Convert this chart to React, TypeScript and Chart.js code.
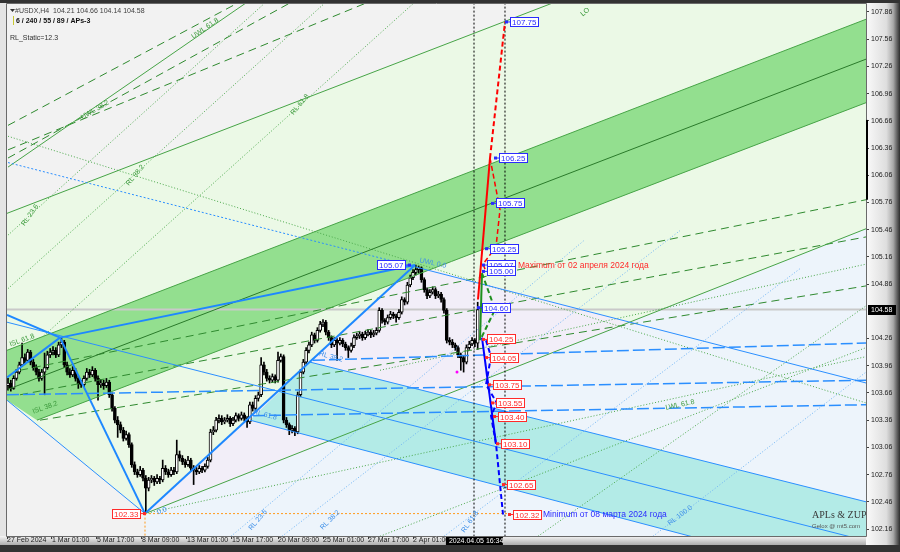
import React, { useEffect, useRef } from 'react';
import { Chart, registerables } from 'chart.js';

Chart.register(...registerables);

type Pt = [number, number];

// ---------- H4 candles (index 0 = 27 Feb 2024) ----------
const opens: number[] = [
  103.74, 103.77, 103.71, 103.82, 103.89, 103.97, 104.05, 104.02, 104.11, 104.00,
  103.94, 103.89, 103.82, 103.89, 103.94, 104.08, 104.11, 104.13, 104.08, 104.19,
  104.22, 103.97, 103.89, 103.86, 103.91, 103.82, 103.76, 103.75, 103.82, 103.89,
  103.86, 103.91, 103.82, 103.75, 103.77, 103.74, 103.78, 103.64, 103.49, 103.36,
  103.31, 103.25, 103.16, 103.20, 103.09, 102.87, 102.79, 102.76, 102.81, 102.72,
  102.61, 102.70, 102.72, 102.68, 102.72, 102.70, 102.83, 102.79, 102.76, 102.81,
  102.79, 102.98, 102.94, 102.90, 102.87, 102.92, 102.83, 102.81, 102.79, 102.83,
  102.81, 102.85, 102.92, 103.23, 103.25, 103.36, 103.38, 103.34, 103.36, 103.38,
  103.32, 103.36, 103.41, 103.38, 103.42, 103.38, 103.34, 103.53, 103.49, 103.60,
  103.64, 103.97, 103.89, 103.82, 103.80, 103.84, 103.80, 104.02, 104.06, 103.36,
  103.31, 103.25, 103.27, 103.23, 103.64, 103.89, 104.00, 104.13, 104.19, 104.30,
  104.24, 104.35, 104.42, 104.44, 104.33, 104.27, 104.19, 104.24, 104.21, 104.24,
  104.20, 104.16, 104.13, 104.18, 104.27, 104.29, 104.31, 104.27, 104.31, 104.33,
  104.30, 104.32, 104.35, 104.57, 104.46, 104.44, 104.49, 104.53, 104.51, 104.49,
  104.55, 104.69, 104.66, 104.85, 104.93, 104.99, 105.02, 105.04, 104.91, 104.80,
  104.73, 104.77, 104.80, 104.73, 104.75, 104.69, 104.57, 104.24, 104.22, 104.19,
  104.16, 104.08, 104.05, 104.00, 104.16, 104.20, 104.24, 104.21,
];
const highs: number[] = [
  103.82, 103.80, 103.85, 103.92, 104.00, 104.21, 104.09, 104.14, 104.13, 104.03,
  103.97, 103.92, 103.92, 104.10, 104.12, 104.15, 104.17, 104.16, 104.22, 104.27,
  104.24, 104.00, 103.93, 103.95, 103.93, 103.85, 103.80, 103.85, 103.93, 103.92,
  103.95, 103.93, 103.85, 103.81, 103.80, 103.82, 103.80, 103.66, 103.51, 103.40,
  103.34, 103.28, 103.24, 103.22, 103.11, 102.90, 102.82, 102.85, 102.83, 102.75,
  102.73, 102.75, 102.74, 102.76, 102.74, 102.92, 102.86, 102.82, 102.84, 102.84,
  103.14, 103.02, 102.97, 102.93, 102.96, 102.94, 102.86, 102.84, 102.86, 102.85,
  102.88, 102.95, 103.26, 103.29, 103.39, 103.42, 103.41, 103.39, 103.42, 103.40,
  103.39, 103.44, 103.43, 103.45, 103.44, 103.40, 103.56, 103.56, 103.63, 103.67,
  104.05, 104.00, 103.92, 103.85, 103.87, 103.86, 104.11, 104.09, 104.08, 103.39,
  103.33, 103.30, 103.29, 103.67, 103.92, 104.03, 104.16, 104.22, 104.33, 104.32,
  104.38, 104.45, 104.47, 104.46, 104.35, 104.29, 104.27, 104.26, 104.27, 104.26,
  104.22, 104.18, 104.21, 104.30, 104.32, 104.34, 104.33, 104.34, 104.36, 104.35,
  104.35, 104.38, 104.60, 104.59, 104.48, 104.52, 104.56, 104.55, 104.53, 104.58,
  104.72, 104.71, 104.88, 104.96, 105.02, 105.07, 105.06, 105.05, 104.93, 104.82,
  104.80, 104.83, 104.82, 104.78, 104.77, 104.71, 104.59, 104.27, 104.25, 104.21,
  104.18, 104.10, 104.07, 104.19, 104.23, 104.27, 104.26, 104.66,
];
const lows: number[] = [
  103.69, 103.68, 103.70, 103.80, 103.87, 103.95, 103.98, 104.00, 103.97, 103.91,
  103.86, 103.79, 103.80, 103.64, 103.92, 104.05, 104.08, 104.05, 104.06, 104.16,
  103.94, 103.86, 103.83, 103.84, 103.79, 103.71, 103.72, 103.73, 103.80, 103.83,
  103.84, 103.79, 103.58, 103.72, 103.70, 103.72, 103.61, 103.46, 103.33, 103.17,
  103.22, 103.13, 103.14, 103.06, 102.84, 102.76, 102.73, 102.74, 102.69, 102.33,
  102.58, 102.67, 102.64, 102.66, 102.66, 102.68, 102.76, 102.73, 102.74, 102.76,
  102.77, 102.91, 102.87, 102.84, 102.85, 102.80, 102.65, 102.76, 102.77, 102.78,
  102.79, 102.83, 102.90, 103.20, 103.23, 103.33, 103.31, 103.32, 103.34, 103.29,
  103.30, 103.34, 103.35, 103.36, 103.35, 103.28, 103.32, 103.46, 103.47, 103.57,
  103.62, 103.86, 103.79, 103.77, 103.78, 103.77, 103.78, 104.00, 103.33, 103.28,
  103.20, 103.22, 103.19, 103.21, 103.62, 103.87, 103.98, 104.10, 104.17, 104.21,
  104.22, 104.33, 104.39, 104.30, 104.24, 104.16, 104.17, 104.02, 104.19, 104.17,
  104.13, 104.05, 104.11, 104.16, 104.25, 104.26, 104.24, 104.25, 104.29, 104.27,
  104.28, 104.30, 104.33, 104.43, 104.41, 104.42, 104.47, 104.48, 104.44, 104.47,
  104.53, 104.63, 104.64, 104.83, 104.91, 104.96, 104.98, 104.88, 104.77, 104.70,
  104.71, 104.75, 104.70, 104.71, 104.66, 104.54, 104.21, 104.19, 104.16, 104.13,
  104.05, 103.91, 103.89, 103.98, 104.14, 104.18, 104.17, 104.14,
];
const closes: number[] = [
  103.77, 103.71, 103.82, 103.89, 103.97, 104.05, 104.02, 104.11, 104.00, 103.94,
  103.89, 103.82, 103.89, 103.94, 104.08, 104.11, 104.13, 104.08, 104.19, 104.22,
  103.97, 103.89, 103.86, 103.91, 103.82, 103.76, 103.75, 103.82, 103.89, 103.86,
  103.91, 103.82, 103.75, 103.77, 103.74, 103.78, 103.64, 103.49, 103.36, 103.31,
  103.25, 103.16, 103.20, 103.09, 102.87, 102.79, 102.76, 102.81, 102.72, 102.61,
  102.70, 102.72, 102.68, 102.72, 102.70, 102.83, 102.79, 102.76, 102.81, 102.79,
  102.98, 102.94, 102.90, 102.87, 102.92, 102.83, 102.81, 102.79, 102.83, 102.81,
  102.85, 102.92, 103.23, 103.25, 103.36, 103.38, 103.34, 103.36, 103.38, 103.32,
  103.36, 103.41, 103.38, 103.42, 103.38, 103.34, 103.53, 103.49, 103.60, 103.64,
  103.97, 103.89, 103.82, 103.80, 103.84, 103.80, 104.02, 104.06, 103.36, 103.31,
  103.25, 103.27, 103.23, 103.64, 103.89, 104.00, 104.13, 104.19, 104.30, 104.24,
  104.35, 104.42, 104.44, 104.33, 104.27, 104.19, 104.24, 104.21, 104.24, 104.20,
  104.16, 104.13, 104.18, 104.27, 104.29, 104.31, 104.27, 104.31, 104.33, 104.30,
  104.32, 104.35, 104.57, 104.46, 104.44, 104.49, 104.53, 104.51, 104.49, 104.55,
  104.69, 104.66, 104.85, 104.93, 104.99, 105.02, 105.04, 104.91, 104.80, 104.73,
  104.77, 104.80, 104.73, 104.75, 104.69, 104.57, 104.24, 104.22, 104.19, 104.16,
  104.08, 104.05, 104.00, 104.16, 104.20, 104.24, 104.21, 104.58,
];

// ---------- axes ----------
const X_MIN = -0.36;
const X_MAX = 305.07;
const Y_MIN = 102.083;
const Y_MAX = 107.948;
const xTickPositions = [-0.36, 15.64, 31.64, 47.64, 63.64, 79.64, 96.0, 112.0, 128.0, 144.0];
const xTickLabels = ['27 Feb 2024', '1 Mar 01:00', '5 Mar 17:00', '8 Mar 09:00', '13 Mar 01:00',
  '15 Mar 17:00', '20 Mar 09:00', '25 Mar 01:00', '27 Mar 17:00', '2 Apr 01:00'];
const yTickValues = [102.16, 102.46, 102.76, 103.06, 103.36, 103.66, 103.96, 104.26, 104.86,
  105.16, 105.46, 105.76, 106.06, 106.36, 106.66, 106.96, 107.26, 107.56, 107.86];
const lastPrice = 104.58;
const cursorTimeLabel = '2024.04.05 16:34';
const cursorTimeIndex = 155.7;
const timeMarkers = [165.69, 176.71];
const spreadBar: Pt = [106.67, 105.79];

// ---------- zones ----------
const paleBlueZone: Pt[] = [[48.71, 102.33], [305.07, 105.47], [305.07, 101.9], [48.71, 101.9]];
const paleGreenZone: Pt[] = [[-0.36, 103.58], [48.71, 102.33], [305.07, 105.47], [305.07, 108.2], [213.8, 108.2], [-0.36, 105.64]];
const lavenderZone: Pt[] = [[48.71, 102.33], [144.71, 105.07], [221.16, 104.44]];
const cyanZone: Pt[] = [[86.04, 103.36], [107.38, 104.0], [305.07, 102.46], [305.07, 101.57]];
const greenChannel: Pt[] = [[-0.36, 104.13], [305.07, 107.78], [305.07, 106.86], [10.31, 103.36], [-0.36, 103.58]];

// ---------- lines ----------
const thickBlueLines: Pt[][] = [
  [[-0.36, 104.52], [18.49, 104.27]],
  [[-0.36, 103.83], [18.49, 104.27]],
  [[18.49, 104.27], [48.71, 102.33]],
  [[48.71, 102.33], [144.71, 105.07]],
  [[18.49, 104.27], [144.71, 105.07]],
];
const thinBlueLines: Pt[][] = [
  [[144.71, 105.05], [305.07, 103.77]],
  [[-0.36, 104.44], [305.07, 102.03]],
  [[107.38, 104.0], [305.07, 102.46]],
  [[86.04, 103.36], [305.07, 101.57]],
  [[-0.36, 103.58], [48.71, 102.33]],
];
const blueDottedLines: Pt[][] = [[[0, 106.2], [144.71, 105.05]]];
const lightBlueDottedLines: Pt[][] = [
  [[79.29, 102.08], [205.16, 105.35]],
  [[97.42, 102.08], [238.93, 105.45]],
  [[155.02, 102.08], [281.6, 105.03]],
  [[229.33, 102.08], [305.07, 103.89]],
];
const blueDashedLines: Pt[][] = [
  [[-0.36, 103.64], [305.07, 103.80]],
  [[108.44, 104.02], [305.07, 104.21]],
  [[87.11, 103.41], [305.07, 103.53]],
];
const greenSolidLines: Pt[][] = [
  [[-0.36, 104.13], [305.07, 107.78]],
  [[10.31, 103.36], [305.07, 106.86]],
  [[48.71, 102.33], [305.07, 105.47]],
  [[-0.36, 105.64], [213.8, 108.2]],
  [[0, 106.15], [86.04, 107.99]],
];
const greenMedianLine: Pt[] = [[0, 103.70], [305.07, 107.34]];
const greenDashedLines: Pt[][] = [
  [[4.27, 103.91], [305.07, 105.79]],
  [[4.27, 103.64], [305.07, 105.38]],
  [[11.38, 103.36], [305.07, 104.84]],
  [[0, 106.61], [83.56, 107.99]],
  [[0, 106.34], [129.78, 107.99]],
  [[0, 106.25], [102.04, 107.99]],
];
const greenDottedLines: Pt[][] = [
  [[0, 105.40], [91.02, 107.95]],
  [[0, 104.81], [113.78, 107.99]],
  [[12.69, 104.29], [145.42, 107.99]],
  [[188.44, 102.08], [305.07, 104.62]],
  [[48.71, 102.33], [305.07, 104.06]],
  [[132.27, 102.08], [305.07, 104.16]],
  [[132.27, 103.91], [305.07, 105.08]],
  [[0, 106.49], [305.07, 103.55]],
];
const lowLevelLine: Pt[] = [[48.71, 102.33], [179.56, 102.33]];
const lowTimeLine: Pt[] = [[48.71, 102.33], [48.71, 101.9]];

// ---------- projections ----------
const redSolidPath: Pt[] = [[167.11, 104.69], [171.38, 106.25]];
const redDashedPath: Pt[] = [[171.38, 106.25], [176.71, 107.75]];
const redDashedReturn: Pt[] = [[171.38, 106.25], [174.93, 105.68], [173.51, 105.27], [168.89, 105.08], [169.96, 105.0]];
const greenSolidPath: Pt[] = [[167.82, 104.24], [168.53, 104.98]];
const greenDashedPath: Pt[] = [[168.53, 104.98], [173.16, 104.58], [168.18, 104.26]];
const blueSolidPath: Pt[] = [[168.53, 104.27], [173.51, 103.10]];
const blueDashedPath: Pt[] = [[169.96, 104.24], [171.73, 104.06], [169.96, 103.75], [173.87, 103.55], [171.73, 103.41], [173.51, 103.10], [176.0, 102.32]];
const lowDot: Pt = [159.64, 103.89];

const upTargets = [107.75, 106.25, 105.75, 105.25, 105.07, 105.00, 104.60];
const upTargetIdx = [178.49, 174.58, 173.51, 171.38, 170.31, 170.31, 168.53];
const downTargets = [104.25, 104.05, 103.75, 103.55, 103.40, 103.10, 102.65, 102.32];
const downTargetIdx = [170.31, 171.38, 172.44, 173.51, 174.22, 175.29, 177.42, 179.56];
const pivotLow: Pt = [48.71, 102.33];
const pivotHigh: Pt = [142.93, 105.07];

const maxNote = 'Maximum от 02 апреля 2024 года';
const maxNoteAt: Pt = [181.33, 105.065];
const minNote = 'Minimum от 08 марта 2024 года';
const minNoteAt: Pt = [190.22, 102.32];

const fibLabels = ['UWL 61.8', 'UWL 38.2', 'RL 61.8', 'RL 38.2', 'RL 23.6', 'ISL 61.8', 'ISL 38.2',
  'UWL 0.0', 'RL 61.8', 'RL 38.2', 'LWL 61.8', 'RL 100.0', 'RL 23.6', 'RL 38.2', 'RL 61.8', '0.0', 'LO'];
const fibLabelAt: Pt[] = [[70.04, 107.68], [30.93, 106.78], [103.82, 106.84], [45.16, 106.06], [7.82, 105.62],
  [4.98, 104.24], [13.16, 103.50], [151.1, 105.09], [91.38, 103.42], [114.84, 104.06], [238.93, 103.53],
  [238.93, 102.31], [88.89, 102.26], [114.49, 102.26], [164.27, 102.24], [54.76, 102.36], [205.16, 107.86]];

const header1 = '#USDX,H4  104.21 104.66 104.14 104.58';
const header2 = '6 / 240 / 55 / 89 / APs-3';
const header3 = 'RL_Static=12.3';

// styles for fib labels (colour key, angle)
const fibLabelStyle: [string, number][] = [['g', -35], ['g', -30], ['g', -50], ['g', -50], ['g', -55], ['g', -20], ['g', -20],
  ['b', 12], ['b', 15], ['b', 15], ['g', -12], ['b', -37], ['b', -50], ['b', -45], ['b', -55], ['b', -20], ['g', -40]];

const FONT = '"Liberation Sans", Arial, sans-serif';

const framePlugin = {
  id: 'frame',
  beforeDraw(chart: any) {
    const { ctx, chartArea: a, width, height } = chart;
    ctx.save();
    ctx.fillStyle = '#e4e4e4';
    ctx.fillRect(0, 0, width, height);
    // right axis panel
    let g = ctx.createLinearGradient(a.right, 0, width, 0);
    g.addColorStop(0, '#fafafa');
    g.addColorStop(0.6, '#dedede');
    g.addColorStop(0.8, '#a9a9a9');
    g.addColorStop(0.9, '#6a6a6a');
    g.addColorStop(1, '#2c2c2c');
    ctx.fillStyle = g;
    ctx.fillRect(a.right, 0, width - a.right, height);
    // bottom axis panel
    g = ctx.createLinearGradient(0, a.bottom, 0, a.bottom + 10);
    g.addColorStop(0, '#f6f6f6');
    g.addColorStop(1, '#a4a4a4');
    ctx.fillStyle = g;
    ctx.fillRect(0, a.bottom, a.right, 10);
    ctx.fillStyle = '#333333';
    ctx.fillRect(0, a.bottom + 9, width, height - a.bottom - 9);
    ctx.fillRect(0, 0, width, 3);
    // plot background
    ctx.fillStyle = '#f2f2f2';
    ctx.fillRect(a.left, a.top, a.right - a.left, a.bottom - a.top);
    ctx.restore();
  },
};

function priceBox(ctx: any, x: number, y: number, text: string, color: string, markerRight: boolean) {
  ctx.font = `8px ${FONT}`;
  const w = Math.ceil(ctx.measureText(text).width) + 4;
  const h = 10;
  const left = markerRight ? x - w - 4 : x;
  const top = Math.round(y - h / 2);
  ctx.fillStyle = '#ffffff';
  ctx.fillRect(left, top, w, h);
  ctx.strokeStyle = color;
  ctx.lineWidth = 1;
  ctx.strokeRect(left + 0.5, top + 0.5, w - 1, h - 1);
  ctx.fillStyle = color;
  ctx.textAlign = 'left';
  ctx.textBaseline = 'middle';
  ctx.fillText(text, left + 2, top + h / 2 + 0.5);
  ctx.beginPath();
  if (markerRight) {
    ctx.moveTo(left + w, y);
    ctx.lineTo(left + w + 4, y);
  } else {
    ctx.moveTo(left - 4, y);
    ctx.lineTo(left, y);
  }
  ctx.stroke();
  ctx.fillRect(markerRight ? left + w + 2 : left - 5, y - 1.5, 3, 3);
}

const annotPlugin = {
  id: 'annot',
  afterDatasetsDraw(chart: any) {
    const { ctx, chartArea: a } = chart;
    const xs = chart.scales.x;
    const ys = chart.scales.y;
    const X = (v: number) => xs.getPixelForValue(v);
    const Y = (v: number) => ys.getPixelForValue(v);
    ctx.save();
    ctx.beginPath();
    ctx.rect(a.left, a.top, a.right - a.left, a.bottom - a.top);
    ctx.clip();

    // fib labels
    fibLabels.forEach((t, k) => {
      const [c, ang] = fibLabelStyle[k];
      ctx.save();
      ctx.translate(X(fibLabelAt[k][0]), Y(fibLabelAt[k][1]));
      ctx.rotate((ang * Math.PI) / 180);
      ctx.font = `7px ${FONT}`;
      ctx.fillStyle = c === 'g' ? '#3c9a3c' : '#3d8fe8';
      ctx.textAlign = 'center';
      ctx.textBaseline = 'middle';
      ctx.fillText(t, 0, 0);
      ctx.restore();
    });

    upTargets.forEach((v, k) => priceBox(ctx, X(upTargetIdx[k]), Y(v), v.toFixed(2), '#2a2aff', false));
    downTargets.forEach((v, k) => priceBox(ctx, X(downTargetIdx[k]), Y(v), v.toFixed(2), '#ff2a2a', false));
    priceBox(ctx, X(pivotLow[0]), Y(pivotLow[1]), pivotLow[1].toFixed(2), '#ff2a2a', true);
    priceBox(ctx, X(pivotHigh[0]), Y(pivotHigh[1]), pivotHigh[1].toFixed(2), '#2a2aff', true);

    ctx.font = `8.5px ${FONT}`;
    ctx.textAlign = 'left';
    ctx.textBaseline = 'middle';
    ctx.fillStyle = '#ff2a2a';
    ctx.fillText(maxNote, X(maxNoteAt[0]), Y(maxNoteAt[1]));
    ctx.fillStyle = '#2a2aff';
    ctx.fillText(minNote, X(minNoteAt[0]), Y(minNoteAt[1]));

    // header
    ctx.fillStyle = '#303030';
    ctx.beginPath();
    ctx.moveTo(a.left + 3, a.top + 5);
    ctx.lineTo(a.left + 8, a.top + 5);
    ctx.lineTo(a.left + 5.5, a.top + 8);
    ctx.closePath();
    ctx.fill();
    ctx.font = `7px ${FONT}`;
    ctx.fillStyle = '#404040';
    ctx.fillText(header1, a.left + 8, a.top + 7);
    ctx.fillStyle = '#c8c830';
    ctx.fillRect(a.left + 6, a.top + 12, 1, 9);
    ctx.font = `bold 7px ${FONT}`;
    ctx.fillStyle = '#101010';
    ctx.fillText(header2, a.left + 9, a.top + 17);
    ctx.font = `7px ${FONT}`;
    ctx.fillStyle = '#303030';
    ctx.fillText(header3, a.left + 3, a.top + 34);

    // watermark
    ctx.font = `10px "Liberation Serif", serif`;
    ctx.fillStyle = '#3a3a3a';
    ctx.fillText('APLs & ZUP', a.right - 54, a.bottom - 21);
    ctx.font = `6px ${FONT}`;
    ctx.fillStyle = '#555555';
    ctx.fillText('Gelox @ mt5.com', a.right - 54, a.bottom - 10);
    ctx.restore();
  },
  afterDraw(chart: any) {
    const { ctx, chartArea: a, width } = chart;
    const xs = chart.scales.x;
    const ys = chart.scales.y;
    ctx.save();
    ctx.strokeStyle = '#6a6a6a';
    ctx.lineWidth = 1;
    ctx.beginPath();
    ctx.moveTo(a.left - 0.5, a.top - 0.5);
    ctx.lineTo(a.right + 0.5, a.top - 0.5);
    ctx.lineTo(a.right + 0.5, a.bottom + 0.5);
    ctx.lineTo(a.left - 0.5, a.bottom + 0.5);
    ctx.closePath();
    ctx.stroke();
    // spread bar
    const s1 = ys.getPixelForValue(spreadBar[0]);
    const s2 = ys.getPixelForValue(spreadBar[1]);
    ctx.fillStyle = '#000000';
    ctx.fillRect(a.right, s1, 2, s2 - s1);
    // last price box
    const py = ys.getPixelForValue(lastPrice);
    ctx.fillStyle = '#000000';
    ctx.fillRect(a.right + 2, Math.round(py - 5), width - a.right - 6, 10);
    ctx.font = `7px ${FONT}`;
    ctx.fillStyle = '#ffffff';
    ctx.textAlign = 'left';
    ctx.textBaseline = 'middle';
    ctx.fillText(lastPrice.toFixed(2), a.right + 5, Math.round(py) + 0.5);
    // time box
    const tx = xs.getPixelForValue(cursorTimeIndex);
    ctx.fillStyle = '#000000';
    ctx.fillRect(tx, a.bottom + 1, 57, 8);
    ctx.fillStyle = '#ffffff';
    ctx.fillText(cursorTimeLabel, tx + 3, a.bottom + 5.5);
    ctx.restore();
  },
};

export default function App() {
  const ref = useRef<HTMLCanvasElement>(null);
  useEffect(() => {
    const canvas = ref.current;
    if (!canvas) return;
    const datasets: any[] = [];
    const toXY = (pts: Pt[]) => pts.map(([x, y]) => ({ x, y }));
    const addLine = (pts: Pt[], color: string, width: number, dash: number[] = [], order = 10) => {
      datasets.push({
        type: 'line', data: toXY(pts), borderColor: color, borderWidth: width, borderDash: dash,
        pointRadius: 0, fill: false, tension: 0, order,
      });
    };
    const addZone = (pts: Pt[], color: string, order: number) => {
      datasets.push({
        type: 'line', data: toXY(pts), backgroundColor: color, borderColor: 'rgba(0,0,0,0)', borderWidth: 1,
        pointRadius: 0, fill: 'shape', tension: 0, order,
      });
    };

    addZone(paleBlueZone, '#edf4fb', 110);
    addZone(paleGreenZone, '#ebf9e6', 109);
    addZone(lavenderZone, '#f2eef8', 108);
    addZone(cyanZone, '#b3ebe7', 107);
    addZone(greenChannel, '#93df8f', 106);

    addLine([[X_MIN, lastPrice], [X_MAX, lastPrice]], '#c9c9c9', 2, [], 60);

    // candles
    datasets.push({
      type: 'bar', data: opens.map((_, i) => ({ x: i, y: [lows[i], highs[i]] })),
      backgroundColor: '#000000', barThickness: 1, grouped: false, order: 50,
    });
    datasets.push({
      type: 'bar', data: opens.map((o, i) => ({ x: i, y: [o, closes[i]] })),
      backgroundColor: opens.map((o, i) => (closes[i] >= o ? '#ffffff' : '#000000')),
      borderColor: '#000000', borderWidth: 1, borderSkipped: false, barThickness: 3,
      grouped: false, minBarLength: 1, order: 49,
    });

    greenDottedLines.forEach((l) => addLine(l, '#4aa84a', 1, [1, 2], 30));
    lightBlueDottedLines.forEach((l) => addLine(l, '#6fb4f5', 1, [1, 2], 30));
    greenDashedLines.forEach((l) => addLine(l, '#2f8a2f', 1, [8, 5], 29));
    greenSolidLines.forEach((l) => addLine(l, '#47a447', 1, [], 28));
    addLine(greenMedianLine, '#2a7a2a', 1, [], 28);
    blueDottedLines.forEach((l) => addLine(l, '#2b8fff', 1, [2, 2], 27));
    blueDashedLines.forEach((l) => addLine(l, '#2b8fff', 1.5, [12, 4], 26));
    thinBlueLines.forEach((l) => addLine(l, '#2b8fff', 1, [], 25));
    thickBlueLines.forEach((l) => addLine(l, '#1e88ff', 2, [], 24));
    addLine(lowLevelLine, '#ff9a1a', 1, [2, 2], 23);
    addLine(lowTimeLine, '#ff9a1a', 1, [2, 2], 23);
    timeMarkers.forEach((t) => addLine([[t, 101.9], [t, 108.1]], '#000000', 1, [2, 2], 22));

    addLine(greenSolidPath, '#1f8f1f', 2, [], 12);
    addLine(greenDashedPath, '#1f8f1f', 2, [5, 3], 12);
    addLine(redSolidPath, '#ff0000', 2, [], 11);
    addLine(redDashedPath, '#ff0000', 2, [5, 3], 11);
    addLine(redDashedReturn, '#ff0000', 1.5, [5, 3], 11);
    addLine(blueSolidPath, '#0000ff', 2, [], 11);
    addLine(blueDashedPath, '#0000ff', 2, [5, 3], 11);
    datasets.push({
      type: 'line', data: toXY([lowDot]), showLine: false, pointRadius: 1.5,
      pointBackgroundColor: '#ff00ff', pointBorderWidth: 0, order: 5,
    });

    const tickFont = { family: 'Liberation Sans', size: 7 };
    const chart = new Chart(canvas, {
      type: 'bar',
      data: { datasets },
      options: {
        responsive: false,
        devicePixelRatio: 1,
        animation: false,
        events: [],
        layout: { padding: { left: 7, right: 0, top: 4, bottom: 7 }, autoPadding: false },
        plugins: { legend: { display: false }, tooltip: { enabled: false } },
        scales: {
          x: {
            type: 'linear', position: 'bottom', min: X_MIN, max: X_MAX, offset: false,
            grid: { display: true, drawOnChartArea: false, drawTicks: true, tickLength: 3, color: '#404040', offset: false },
            border: { display: false },
            ticks: {
              autoSkip: false, maxRotation: 0, minRotation: 0, align: 'start', padding: -3,
              color: '#1a1a1a', font: tickFont,
              callback: (_v: any, idx: number) => xTickLabels[idx] ?? '',
            },
            afterBuildTicks: (s: any) => { s.ticks = xTickPositions.map((v) => ({ value: v })); },
            afterFit: (s: any) => { s.height = 9; s.paddingLeft = 0; s.paddingRight = 0; },
          },
          y: {
            type: 'linear', position: 'right', min: Y_MIN, max: Y_MAX,
            grid: { display: true, drawOnChartArea: false, drawTicks: true, tickLength: 3, color: '#404040' },
            border: { display: false },
            ticks: {
              padding: 2, color: '#1a1a1a', font: tickFont,
              callback: (v: any) => Number(v).toFixed(2),
            },
            afterBuildTicks: (s: any) => { s.ticks = yTickValues.map((v) => ({ value: v })); },
            afterFit: (s: any) => { s.width = 34; s.paddingTop = 0; s.paddingBottom = 0; },
          },
        },
      } as any,
      plugins: [framePlugin, annotPlugin],
    } as any);
    return () => chart.destroy();
  }, []);
  return (
    <div style={{ position: 'absolute', left: 0, top: 0, width: 900, height: 552 }}>
      <canvas ref={ref} width={900} height={552} style={{ display: 'block', width: 900, height: 552 }} />
    </div>
  );
}
